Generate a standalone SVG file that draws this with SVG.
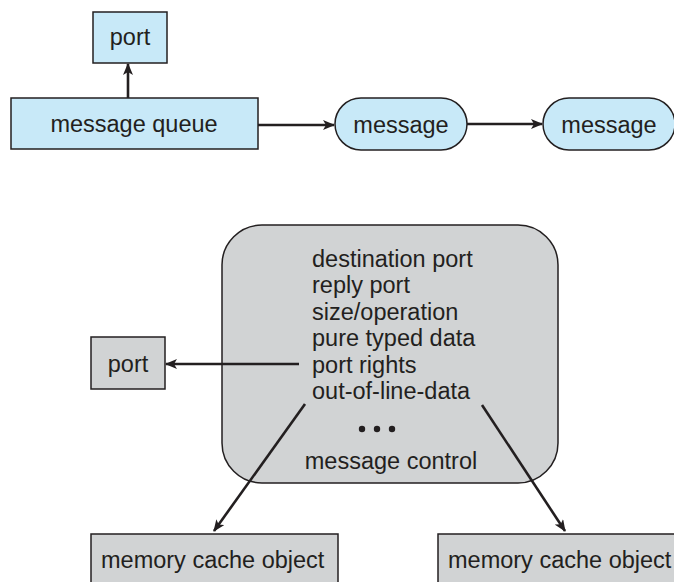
<svg xmlns="http://www.w3.org/2000/svg" width="674" height="582" viewBox="0 0 674 582">
<style>
  .blue { fill: #c8e9f8; stroke: #231f20; stroke-width: 1.5; }
  .gray { fill: #d1d3d4; stroke: #231f20; stroke-width: 1.5; }
  text { font-family: "Liberation Sans", Arial, sans-serif; font-size: 23.5px; fill: #231f20; }
  .mid { text-anchor: middle; }
  .conn { stroke: #231f20; stroke-width: 2.6; fill: none; marker-end: url(#arr); }
</style>
<defs>
  <marker id="arr" viewBox="0 0 12 10" refX="11" refY="5" markerWidth="12" markerHeight="10" markerUnits="userSpaceOnUse" orient="auto">
    <path d="M0,0 L12,5 L0,10 L3,5 Z" fill="#231f20"/>
  </marker>
</defs>
<rect width="674" height="582" fill="#ffffff"/>

<g id="port_top">
  <rect class="blue" x="93" y="12" width="74" height="51"/>
  <text class="mid" x="130" y="45">port</text>
</g>
<g id="message_queue">
  <rect class="blue" x="11" y="98" width="247" height="51"/>
  <text class="mid" x="134" y="132">message queue</text>
</g>
<g id="message1">
  <rect class="blue" x="335" y="98" width="132" height="52" rx="26"/>
  <text class="mid" x="401" y="133">message</text>
</g>
<g id="message2">
  <rect class="blue" x="543" y="98" width="132" height="52" rx="26"/>
  <text class="mid" x="609" y="133">message</text>
</g>

<g id="message_struct">
  <rect class="gray" x="222" y="225" width="336" height="258" rx="40"/>
  <text x="312" y="267">destination port</text>
  <text x="312" y="293">reply port</text>
  <text x="312" y="320">size/operation</text>
  <text x="312" y="346">pure typed data</text>
  <text x="312" y="373">port rights</text>
  <text x="312" y="399">out-of-line-data</text>
  <circle cx="362" cy="429" r="3.2" fill="#231f20"/>
  <circle cx="377" cy="429" r="3.2" fill="#231f20"/>
  <circle cx="392" cy="429" r="3.2" fill="#231f20"/>
  <text class="mid" x="391" y="469">message control</text>
</g>
<g id="port_bottom">
  <rect class="gray" x="91" y="337" width="74" height="52"/>
  <text class="mid" x="128" y="372">port</text>
</g>
<g id="memory_cache1">
  <rect class="gray" x="91" y="534" width="247" height="60"/>
  <text x="101" y="568">memory cache object</text>
</g>
<g id="memory_cache2">
  <rect class="gray" x="438" y="534" width="250" height="60"/>
  <text x="448" y="568">memory cache object</text>
</g>

<g id="connectors">
  <line class="conn" x1="128" y1="98" x2="128" y2="64"/>
  <line class="conn" x1="258" y1="125" x2="334" y2="125"/>
  <line class="conn" x1="467" y1="124" x2="542" y2="124"/>
  <line class="conn" x1="299" y1="364" x2="166" y2="364"/>
  <line class="conn" x1="305" y1="404" x2="214" y2="531"/>
  <line class="conn" x1="482" y1="405" x2="565" y2="531"/>
</g>
</svg>
